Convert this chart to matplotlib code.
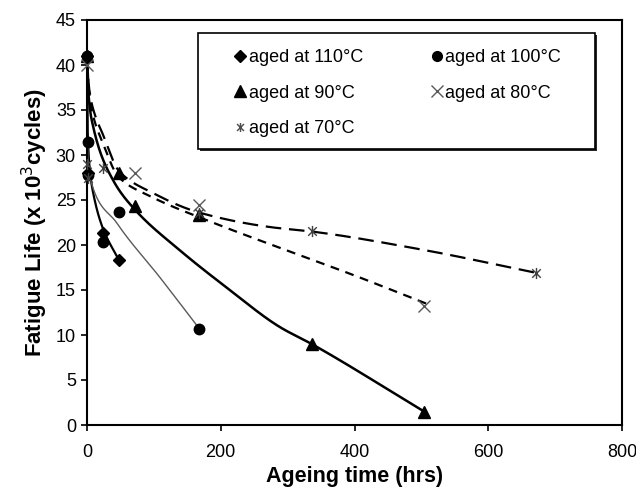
import numpy as np
import matplotlib
matplotlib.use("Agg")
import matplotlib.pyplot as plt
from matplotlib.path import Path
from matplotlib.lines import Line2D
from matplotlib.patches import Rectangle

plt.rcParams['font.family'] = ['Liberation Sans', 'DejaVu Sans']

# ---- data: measured points (markers) ----
labels = ["aged at 110°C", "aged at 100°C", "aged at 90°C", "aged at 80°C", "aged at 70°C"]

x110 = [0, 2, 24, 48]
y110 = [41, 28, 21.3, 18.3]
x100 = [0, 1, 2, 24, 48, 168]
y100 = [41, 31.5, 27.8, 20.3, 23.7, 10.7]
x90 = [0, 48, 72, 168, 336, 504]
y90 = [41, 28, 24.3, 23.3, 9, 1.5]
x80 = [0, 72, 168, 504]
y80 = [40, 28, 24.4, 13.2]
x70 = [0, 1, 24, 168, 336, 672]
y70 = [29, 27.5, 28.6, 23.6, 21.6, 16.9]

# ---- data: curve knots ----
cx110 = [0, 1, 4, 10, 24, 48]
cy110 = [41, 33, 28.5, 25.5, 21.8, 18.3]
cx100 = [0, 1, 4, 45, 109, 168]
cy100 = [41, 30.5, 27.6, 22.4, 16.4, 10.7]
cx90 = [0, 2, 7, 39, 72, 139, 210, 288, 336, 504]
cy90 = [41, 37, 33.9, 27.2, 23.9, 19.4, 15.2, 10.9, 9, 1.5]
cx80 = [0, 3, 12, 20, 48, 95, 188, 284, 397, 507]
cy80 = [41, 37, 33.6, 32, 27.5, 25.4, 22.5, 19.8, 16.7, 13.5]
cx70 = [0, 3, 13, 22, 48, 95, 168, 273, 336, 500, 672]
cy70 = [41, 37.5, 34.2, 32.6, 28.2, 25.9, 23.6, 22, 21.5, 19.5, 16.9]


def pchip(x, y, xs):
    x = np.asarray(x, float); y = np.asarray(y, float)
    h = np.diff(x); dl = np.diff(y) / h
    n = len(x); d = np.zeros(n)
    for k in range(1, n - 1):
        if dl[k - 1] * dl[k] > 0:
            w1 = 2 * h[k] + h[k - 1]; w2 = h[k] + 2 * h[k - 1]
            d[k] = (w1 + w2) / (w1 / dl[k - 1] + w2 / dl[k])
    d[0] = dl[0]; d[-1] = dl[-1]
    idx = np.clip(np.searchsorted(x, xs) - 1, 0, n - 2)
    t = (xs - x[idx]) / h[idx]
    h00 = 2 * t**3 - 3 * t**2 + 1; h10 = t**3 - 2 * t**2 + t
    h01 = -2 * t**3 + 3 * t**2; h11 = t**3 - t**2
    return h00 * y[idx] + h10 * h[idx] * d[idx] + h01 * y[idx + 1] + h11 * h[idx] * d[idx + 1]


def curve(ax, cx, cy, **kw):
    xs = np.linspace(cx[0], cx[-1], 600)
    ax.plot(xs, pchip(cx, cy, xs), **kw)

# asterisk marker: x with vertical bar
ast = Path([(-1, -1), (1, 1), (-1, 1), (1, -1), (0, -1.3), (0, 1.3)],
           [Path.MOVETO, Path.LINETO, Path.MOVETO, Path.LINETO, Path.MOVETO, Path.LINETO])

W, H = 636, 487
fig = plt.figure(figsize=(W / 100, H / 100), dpi=100)
AX_L, AX_R, AX_T, AX_B = 87, 622, 20, 425
ax = fig.add_axes([AX_L / W, (H - AX_B) / H, (AX_R - AX_L) / W, (AX_B - AX_T) / H])

def axx(px):
    return (px - AX_L) / (AX_R - AX_L)

def axy(py):
    return (AX_B - py) / (AX_B - AX_T)

curve(ax, cx110, cy110, color='black', lw=1.6)
curve(ax, cx100, cy100, color='0.35', lw=1.0)
curve(ax, cx90, cy90, color='black', lw=1.8)
curve(ax, cx80, cy80, color='black', lw=1.6, dashes=(4, 3))
curve(ax, cx70, cy70, color='black', lw=1.6, dashes=(7, 3.5))

mk = dict(ls='none', clip_on=False, zorder=5)
ax.plot(x110, y110, marker='D', ms=6, color='black', **mk)
ax.plot(x100, y100, marker='o', ms=7.5, color='black', **mk)
ax.plot(x90, y90, marker='^', ms=8, color='black', **mk)
ax.plot(x80, y80, marker='x', ms=8, mew=1.0, color='0.35', **mk)
ax.plot(x70, y70, marker=ast, ms=8, mew=1.0, color='0.25', **mk)

ax.set_xlim(0, 800)
ax.set_ylim(0, 45)
ax.set_xticks(np.arange(0, 801, 200))
ax.set_yticks(np.arange(0, 46, 5))
for s in ax.spines.values():
    s.set_linewidth(1.5)
ax.tick_params(direction='out', length=4, width=1.2, labelsize=13)
ax.tick_params(axis='x', pad=10)
ax.tick_params(axis='y', pad=4)
ax.set_xlabel('Ageing time (hrs)', fontsize=15.5, fontweight='bold', labelpad=3)
ax.set_ylabel('Fatigue Life (x 10$^{3}$cycles)', fontsize=16, fontweight='bold', labelpad=4)

# legend frame with shadow (drawn manually)
bx0, bx1, by0, by1 = axx(198), axx(595), axy(149), axy(33)
sdx, sdy = 2.0 / (AX_R - AX_L), 2.0 / (AX_B - AX_T)
ax.add_patch(Rectangle((bx0 + sdx, by0 - sdy), bx1 - bx0, by1 - by0, transform=ax.transAxes,
                       facecolor='0.15', edgecolor='none', clip_on=False, zorder=8))
ax.add_patch(Rectangle((bx0, by0), bx1 - bx0, by1 - by0, transform=ax.transAxes,
                       facecolor='white', edgecolor='black', lw=1.2, clip_on=False, zorder=9))

def lh(m, ms, color, mew=1.0):
    return Line2D([], [], ls='none', marker=m, ms=ms, color=color, mew=mew)

handles = [lh('D', 6, 'black'), lh('^', 8, 'black'), lh(ast, 6.5, '0.3'),
           lh('o', 7, 'black'), lh('x', 8, '0.35')]
hl = [labels[0], labels[2], labels[4], labels[1], labels[3]]
leg = ax.legend(handles, hl, ncol=2, loc='upper left',
                bbox_to_anchor=(axx(235), axy(49)),
                fontsize=13, frameon=False, handlelength=0.6,
                handletextpad=0.15, labelspacing=1.03, borderpad=0,
                columnspacing=3.8, borderaxespad=0)
leg.set_zorder(10)

fig.savefig('out.png', dpi=100)
